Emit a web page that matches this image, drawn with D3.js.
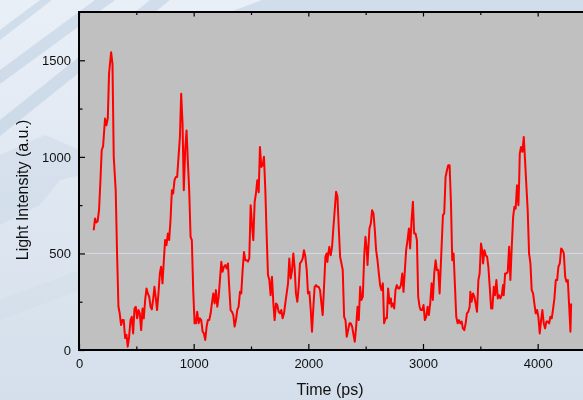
<!DOCTYPE html>
<html>
<head>
<meta charset="utf-8">
<script src="https://cdn.jsdelivr.net/npm/d3@7"></script>
<style>
  html, body { margin: 0; padding: 0; }
  body { width: 583px; height: 400px; overflow: hidden; }
  svg { display: block; font-family: "Liberation Sans", Arial, sans-serif; }
</style>
</head>
<body>
<div id="container"><svg width="583" height="400"></svg></div>
<script>
// time in ps, intensity in a.u.
const timePs = [
  128, 140, 150, 163, 175, 187, 198, 210, 227, 239,
  251, 262, 280, 292, 303, 320, 332, 344, 355, 367,
  379, 390, 402, 414, 425, 437, 449, 460, 472, 484,
  495, 507, 519, 530, 542, 554, 565, 577, 589, 600,
  612, 624, 635, 646, 658, 670, 681, 693, 705, 716,
  728, 740, 751, 763, 775, 786, 798, 810, 821, 833,
  845, 856, 868, 880, 891, 903, 914, 926, 938, 949,
  961, 973, 984, 996, 1008, 1019, 1031, 1043,
  1054, 1066, 1078, 1089, 1101, 1113, 1124, 1136, 1148, 1159,
  1171, 1183, 1194, 1206, 1218, 1229, 1241, 1252, 1264, 1276,
  1287, 1299, 1310, 1322, 1334, 1346, 1357, 1369, 1380, 1392,
  1404, 1415, 1427, 1439, 1450, 1462, 1473, 1485, 1497, 1508,
  1520, 1532, 1543, 1555, 1567, 1578, 1590, 1602, 1613, 1625,
  1636, 1648, 1660, 1671, 1683, 1695, 1706, 1718, 1729, 1741,
  1753, 1764, 1776, 1788, 1799, 1811, 1823, 1834, 1846, 1858,
  1869, 1881, 1892, 1904, 1916, 1927, 1939, 1951, 1962, 1974,
  1986, 1997, 2009, 2021, 2032, 2044, 2055, 2067, 2079, 2090,
  2102, 2114, 2125, 2137, 2149, 2160, 2166, 2172, 2183, 2195,
  2207, 2219, 2230, 2242, 2254, 2265, 2277, 2289, 2300, 2312,
  2324, 2335, 2347, 2359, 2370, 2382, 2394, 2405, 2417, 2429,
  2440, 2452, 2463, 2475, 2487, 2498, 2510, 2516, 2533, 2545,
  2556, 2568, 2580, 2591, 2603, 2615, 2626, 2638, 2650, 2661,
  2673, 2685, 2696, 2708, 2720, 2726, 2737, 2749, 2760, 2772,
  2784, 2795, 2807, 2819, 2830, 2842, 2853, 2865, 2877, 2888,
  2900, 2912, 2923, 2935, 2947, 2958, 2970, 2981, 2993, 3005,
  3016, 3028, 3040, 3051, 3063, 3075, 3086, 3098, 3110, 3121,
  3133, 3145,
  3162, 3174, 3185, 3197, 3209, 3220, 3232, 3244, 3255, 3267,
  3279, 3290, 3302, 3314, 3325, 3337, 3348, 3360, 3372, 3383,
  3395, 3407, 3413, 3424, 3436, 3448, 3459, 3471, 3483, 3494,
  3506, 3518, 3524, 3536, 3547, 3559, 3570, 3582, 3594, 3605,
  3617, 3628, 3640, 3652, 3663, 3675, 3687, 3698, 3704, 3716,
  3727, 3739, 3751, 3762, 3774, 3786, 3797, 3808, 3820, 3832,
  3838, 3844, 3855, 3867, 3879, 3890, 3902, 3913, 3925, 3937,
  3948, 3960, 3971, 3983, 3995, 4006, 4018, 4030, 4041, 4053,
  4065, 4076, 4088, 4100, 4111, 4123, 4135, 4146, 4158, 4170,
  4181, 4193, 4205, 4216, 4228, 4240, 4251, 4263, 4275, 4286,
  4292
];

const intensity = [
  620, 681, 660, 667, 727, 879, 1034, 1055, 1198, 1163,
  1198, 1431, 1542, 1482, 1000, 827, 500, 224, 190, 129,
  155, 155, 62, 79, 17, 69, 155, 172, 86, 215,
  224, 164, 207, 190, 103, 215, 164, 259, 319, 293,
  276, 224, 210, 259, 327, 267, 207, 293, 396, 431,
  345, 465, 569, 543, 603, 569, 672, 827, 810, 879,
  896, 896, 1000, 1103, 1327, 1172, 827, 1034, 1137, 982,
  827, 586, 569, 310, 138, 138, 198, 138,
  164, 155, 95, 86, 52, 121, 155, 155, 190, 241,
  293, 241, 310, 224, 276, 362, 457, 405, 431, 440,
  422, 448, 327, 207, 198, 181, 121, 155, 207, 224,
  301, 293, 414, 508, 465, 465, 457, 474, 750, 655,
  569, 767, 810, 879, 817, 1051, 948, 957, 1000, 827,
  603, 388, 362, 284, 379, 241, 155, 241, 233, 198,
  190, 207, 164, 190, 241, 293, 345, 474, 370, 414,
  500, 422, 293, 250, 327, 448, 457, 474, 517, 483,
  414, 293, 301, 207, 95, 224, 327, 336, 327, 327,
  310, 241, 181, 327, 483, 500, 456, 490, 534, 490,
  534, 638, 724, 819, 793, 638, 483, 448, 414, 172,
  155, 69, 103, 138, 138, 121, 78, 43, 121, 224,
  155, 327, 259, 276, 483, 586, 517, 440, 629, 655,
  724, 707, 620, 517, 465, 396, 336, 310, 345, 138,
  164, 164, 319, 241, 267, 224, 241, 215, 310, 336,
  319, 319, 336, 396, 301, 414, 517, 569, 629, 526,
  672, 767, 603, 603, 569, 276, 224, 207, 207, 233,
  155, 172, 224, 181, 241, 345, 259, 396, 465, 414,
  414, 293,
  534, 698, 707, 896, 931, 957, 957, 758, 465, 500,
  327, 172, 138, 155, 138, 147, 112, 103, 138, 190,
  198, 224, 301, 250, 293, 276, 241, 198, 362, 396,
  551, 509, 448, 517, 491, 483, 431, 327, 215, 215,
  327, 284, 362, 267, 284, 267, 284, 336, 284, 396,
  396, 405, 534, 362, 534, 689, 741, 732, 853, 750,
  862, 1017, 1051, 1026, 1103, 982, 845, 724, 500, 448,
  310, 293, 241, 190, 207, 172, 86, 155, 207, 138,
  112, 147, 147, 138, 172, 164, 215, 267, 362, 362,
  431, 448, 526, 517, 500, 379, 353, 362, 224, 95,
  241
];

const xTicks = [0, 1000, 2000, 3000, 4000];
const yTicks = [0, 500, 1000, 1500];

drawChart();

function drawChart() {
  const svg = d3.select("#container svg");
  const W = 583, H = 400;
  const plot = { left: 79, top: 12, right: 595, bottom: 350 };

  // background
  const defs = svg.append("defs");
  const bg = defs.append("linearGradient")
    .attr("id", "bg").attr("x1", 0).attr("y1", 0).attr("x2", 0).attr("y2", 1);
  bg.append("stop").attr("offset", "0%").attr("stop-color", "#e9eff7");
  bg.append("stop").attr("offset", "100%").attr("stop-color", "#d4dfeb");
  svg.append("rect").attr("width", W).attr("height", H).attr("fill", "url(#bg)");

  // faint glass-roof decoration behind the chart
  const deco = svg.append("g").attr("fill", "#b4c7dc").attr("opacity", 0.45);
  deco.append("path").attr("d", "M0,70 L95,0 L115,0 L0,84 Z");
  deco.append("path").attr("d", "M0,120 L150,0 L170,0 L0,136 Z");
  deco.append("path").attr("d", "M0,30 L40,0 L52,0 L0,40 Z");
  deco.append("path").attr("d", "M230,12 L262,0 L583,0 L583,12 Z").attr("opacity", 1.4);
  deco.append("path").attr("d", "M0,155 L45,135 L80,150 L80,175 L60,180 L40,205 L0,225 Z")
    .attr("opacity", 0.5);
  deco.append("path").attr("d", "M0,300 L80,270 L80,290 L0,320 Z").attr("opacity", 0.25);

  const x = d3.scaleLinear().domain([0, 4500]).range([plot.left, plot.right]);
  const y = d3.scaleLinear().domain([0, 1750]).range([plot.bottom, plot.top]);

  svg.append("rect")
    .attr("x", plot.left).attr("y", plot.top)
    .attr("width", plot.right - plot.left).attr("height", plot.bottom - plot.top)
    .attr("fill", "#c0c0c0");

  // light reference line at 500
  svg.append("line")
    .attr("x1", plot.left).attr("x2", plot.right)
    .attr("y1", y(500)).attr("y2", y(500))
    .attr("stroke", "#d3dbe6").attr("stroke-width", 1);

  svg.append("clipPath").attr("id", "clip")
    .append("rect")
    .attr("x", plot.left).attr("y", plot.top)
    .attr("width", plot.right - plot.left).attr("height", plot.bottom - plot.top);

  const points = timePs.map((t, i) => [t, intensity[i]]);
  const line = d3.line().x((d) => x(d[0])).y((d) => y(d[1]));

  svg.append("path")
    .datum(points)
    .attr("clip-path", "url(#clip)")
    .attr("d", line)
    .attr("fill", "none")
    .attr("stroke", "#ff0000")
    .attr("stroke-width", 2)
    .attr("stroke-linejoin", "round");

  // axes (ticks pointing inward)
  const fmt = d3.format("d");
  const styleAxis = (g) => {
    g.select(".domain").remove();
    g.selectAll("line").attr("stroke", "#000").attr("stroke-width", 1.2);
    g.selectAll("text").attr("fill", "#111").style("font-size", "13px");
  };

  const xMinor = d3.range(500, 4500, 1000);
  const yMinor = d3.range(250, 1750, 500);

  svg.append("g")
    .attr("transform", `translate(0,${plot.bottom})`)
    .call(d3.axisBottom(x).tickValues(xTicks).tickSize(-6).tickPadding(9).tickFormat(fmt))
    .call(styleAxis);
  svg.append("g")
    .attr("transform", `translate(0,${plot.bottom})`)
    .call(d3.axisBottom(x).tickValues(xMinor).tickSize(-3.5).tickFormat(""))
    .call(styleAxis);
  svg.append("g")
    .attr("transform", `translate(0,${plot.top})`)
    .call(d3.axisTop(x).tickValues(xTicks).tickSize(-4.5).tickFormat(""))
    .call(styleAxis);
  svg.append("g")
    .attr("transform", `translate(0,${plot.top})`)
    .call(d3.axisTop(x).tickValues(xMinor).tickSize(-3).tickFormat(""))
    .call(styleAxis);

  svg.append("g")
    .attr("transform", `translate(${plot.left},0)`)
    .call(d3.axisLeft(y).tickValues(yTicks).tickSize(-6).tickPadding(8).tickFormat(fmt))
    .call(styleAxis);
  svg.append("g")
    .attr("transform", `translate(${plot.left},0)`)
    .call(d3.axisLeft(y).tickValues(yMinor).tickSize(-3.5).tickFormat(""))
    .call(styleAxis);

  // frame
  svg.append("path")
    .attr("d", `M${plot.right},${plot.top} H${plot.left} V${plot.bottom} H${plot.right}`)
    .attr("fill", "none").attr("stroke", "#000").attr("stroke-width", 2);

  svg.append("text")
    .attr("x", 330).attr("y", 395)
    .attr("text-anchor", "middle")
    .attr("fill", "#111")
    .style("font-size", "16px")
    .text("Time (ps)");

  svg.append("text")
    .attr("transform", "translate(28,190) rotate(-90)")
    .attr("text-anchor", "middle")
    .attr("fill", "#111")
    .style("font-size", "16px")
    .text("Light Intensity (a.u.)");
}
</script>
</body>
</html>
